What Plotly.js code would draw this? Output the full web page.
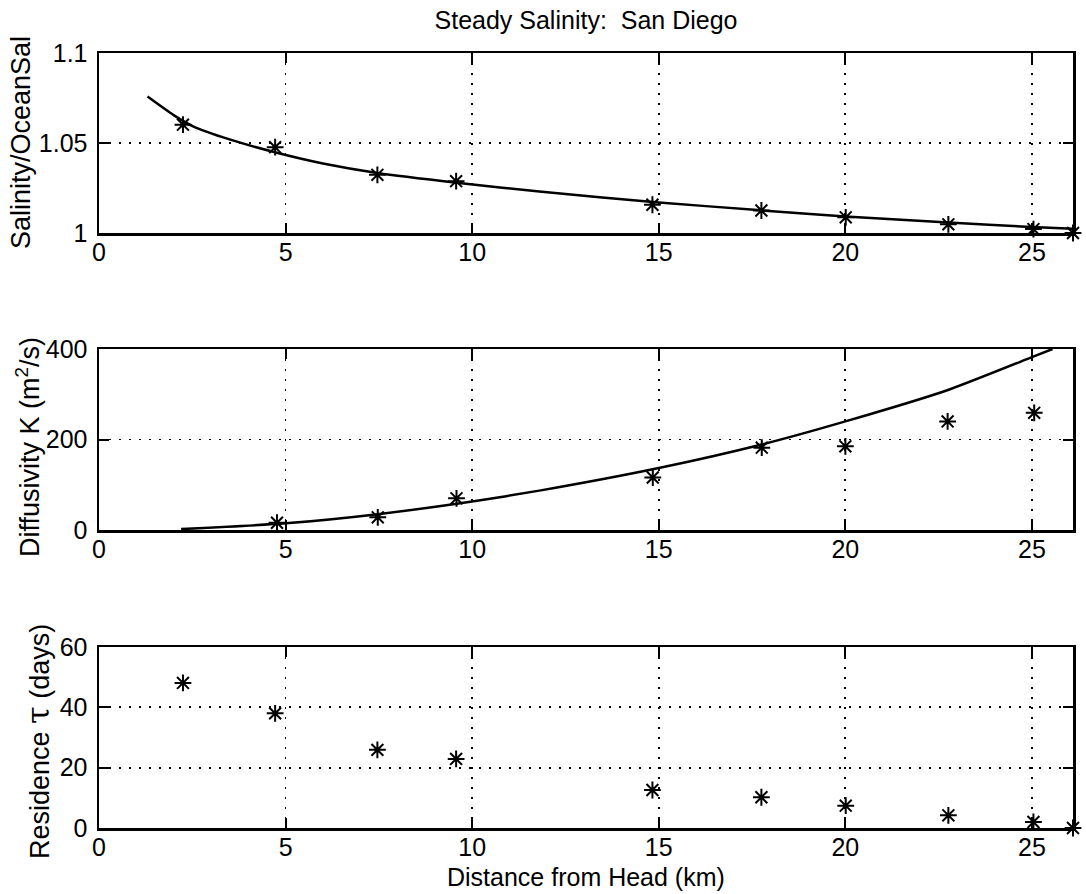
<!DOCTYPE html>
<html>
<head>
<meta charset="utf-8">
<script src="https://cdn.plot.ly/plotly-3.0.1.min.js"></script>
<style>html,body{margin:0;padding:0;background:#fff;}</style>
</head>
<body>
<div id="chart" style="width:1086px;height:894px;"></div>
<script>
// Distance from head (km) of the observation stations
const distance = [2.25, 4.72, 7.46, 9.57, 14.83, 17.75, 20.01, 22.76, 25.04, 26.1];
// Panel 1: salinity ratio
const salinityObs = [1.0602, 1.0477, 1.0323, 1.0288, 1.0157, 1.0125, 1.0087, 1.0048, 1.0022, 1.0000];
const salFitX = [1.3, 2.0, 2.52, 3.5, 4.74, 6.0, 7.5, 9.65, 11.8, 15.0, 17.74, 20.0, 22.76, 25.0, 26.1];
const salFitY = [1.0758, 1.0655, 1.0593, 1.0520, 1.0447, 1.0386, 1.0332, 1.0278, 1.0230, 1.0170, 1.0126, 1.0092, 1.0058, 1.0033, 1.0024];
// Panel 2: diffusivity K (m2/s)
const diffX = [4.77, 7.47, 9.58, 14.84, 17.76, 20.0, 22.74, 25.06];
const diffObs = [16, 28, 70, 116, 182, 185, 240, 259];
const diffFitX = [2.2, 5.0, 7.47, 10.0, 11.8, 15.0, 17.76, 20.0, 22.77, 25.0, 25.55];
const diffFitY = [2, 14.8, 35, 63, 87, 137, 189, 240, 310, 382, 400];
// Panel 3: residence time (days)
const residence = [48.1, 38.0, 25.9, 22.9, 12.6, 10.2, 7.4, 4.2, 2.0, 0];
// Tick labels
const xTicks = [0, 5, 10, 15, 20, 25];
const salTicks = [1, 1.05, 1.1];
const salTickText = ['1', '1.05', '1.1'];
const diffTicks = [0, 200, 400];
const resTicks = [0, 20, 40, 60];

const H = 894, L = 99, PW = 974;
const plotTop = 53, plotBot = 828;
const ph = plotBot - plotTop;
function dom(topPx, botPx){ return [(plotBot - botPx)/ph, (plotBot - topPx)/ph]; }
function px2x(p){ return (p - L)/PW; }
function px2y(p){ return (plotBot - p)/ph; }

const lineStyle = {color:'black', width:2.5, shape:'spline', smoothing:0.6};
const star = {symbol:'asterisk-open', size:14, color:'black', line:{color:'black', width:2}};

const traces = [
  {x: salFitX, y: salFitY, xaxis:'x', yaxis:'y', mode:'lines', line: lineStyle},
  {x: distance, y: salinityObs, xaxis:'x', yaxis:'y', mode:'markers', marker: star, cliponaxis:false},
  {x: diffFitX, y: diffFitY, xaxis:'x2', yaxis:'y2', mode:'lines', line: lineStyle},
  {x: diffX, y: diffObs, xaxis:'x2', yaxis:'y2', mode:'markers', marker: star, cliponaxis:false},
  {x: distance, y: residence, xaxis:'x3', yaxis:'y3', mode:'markers', marker: star, cliponaxis:false}
];

const common = {
  showline:true, linewidth:2.5, linecolor:'black', mirror:'allticks',
  ticks:'inside', ticklen:10, tickwidth:2, tickcolor:'black',
  showgrid:true, gridcolor:'black', gridwidth:1.8, griddash:'2px,8px',
  zeroline:false, tickfont:{size:25, color:'black'}, fixedrange:true, layer:'above traces'
};
function xa(anchor){ return Object.assign({}, common, {anchor: anchor, range:[0, 26.1], tickvals: xTicks, ticklabelstandoff: -5}); }

const annFont = {size:27, color:'black', family:'Liberation Sans, Arial, sans-serif'};
const annotations = [
  {text:'Salinity/OceanSal', xref:'paper', yref:'paper', x:px2x(21), y:px2y(143), textangle:-90, showarrow:false, xanchor:'center', yanchor:'middle', font:annFont},
  {text:'Diffusivity K (m<sup>2</sup>/s)', xref:'paper', yref:'paper', x:px2x(28), y:px2y(447), textangle:-90, showarrow:false, xanchor:'center', yanchor:'middle', font:annFont},
  {text:'Residence <span style="font-family:DejaVu Serif;font-size:32px">τ</span> (days)', xref:'paper', yref:'paper', x:px2x(38), y:px2y(742), textangle:-90, showarrow:false, xanchor:'center', yanchor:'middle', font:annFont},
  {text:'Distance from Head (km)', xref:'paper', yref:'paper', x:px2x(586), y:px2y(877), showarrow:false, xanchor:'center', yanchor:'middle', font:{size:25, color:'black', family:'Liberation Sans, Arial, sans-serif'}}
];

const layout = {
  width:1086, height:894,
  margin:{l:99, r:13, t:53, b:66},
  paper_bgcolor:'white', plot_bgcolor:'white',
  showlegend:false,
  font:{family:'Liberation Sans, Arial, sans-serif', color:'black', size:25},
  title:{text:'Steady Salinity:\u00a0 San Diego', x:0.5, xref:'paper', xanchor:'center', y:1-20/H, yref:'container', yanchor:'middle', font:{size:25}},
  xaxis: xa('y'),
  xaxis2: xa('y2'),
  xaxis3: xa('y3'),
  yaxis: Object.assign({}, common, {anchor:'x', domain: dom(53, 233), range:[1, 1.1], tickvals: salTicks, ticktext: salTickText, ticklabelstandoff: 4}),
  yaxis2: Object.assign({}, common, {anchor:'x2', domain: dom(349, 530), range:[0, 400], tickvals: diffTicks, ticklabelstandoff: 4}),
  yaxis3: Object.assign({}, common, {anchor:'x3', domain: dom(647, 828), range:[0, 60], tickvals: resTicks, ticklabelstandoff: 4}),
  annotations: annotations
};

Plotly.newPlot('chart', traces, layout, {displayModeBar:false, staticPlot:true});
</script>
</body>
</html>
